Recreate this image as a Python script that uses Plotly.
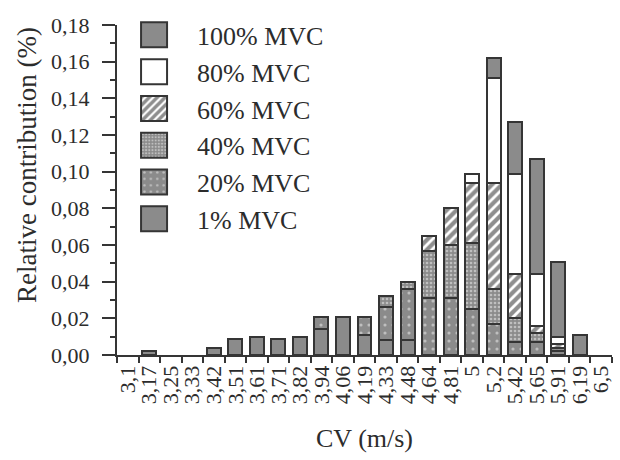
import plotly.graph_objects as go

# Conduction velocity classes (m/s)
cv_classes = ["3,1", "3,17", "3,25", "3,33", "3,42", "3,51", "3,61", "3,71", "3,82",
              "3,94", "4,06", "4,19", "4,33", "4,48", "4,64", "4,81", "5", "5,2",
              "5,42", "5,65", "5,91", "6,19", "6,5"]

# Contribution added at each force level (stacked from 1% MVC upward)
mvc_1 = [0, 0.002, 0, 0, 0.004, 0.009, 0.010, 0.009, 0.010, 0.014, 0.021, 0.011,
         0.008, 0.008, 0, 0, 0, 0, 0, 0, 0, 0, 0]
mvc_20 = [0, 0, 0, 0, 0, 0, 0, 0, 0, 0.007, 0, 0.010,
          0.018, 0.028, 0.031, 0.031, 0.025, 0.017, 0.007, 0.007, 0.002, 0, 0]
mvc_40 = [0, 0, 0, 0, 0, 0, 0, 0, 0, 0, 0, 0,
          0.006, 0.004, 0.026, 0.029, 0.036, 0.019, 0.013, 0.005, 0.002, 0, 0]
mvc_60 = [0, 0, 0, 0, 0, 0, 0, 0, 0, 0, 0, 0,
          0, 0, 0.008, 0.020, 0.033, 0.058, 0.024, 0.004, 0.002, 0, 0]
mvc_80 = [0, 0, 0, 0, 0, 0, 0, 0, 0, 0, 0, 0,
          0, 0, 0, 0, 0.005, 0.057, 0.055, 0.028, 0.004, 0, 0]
mvc_100 = [0, 0, 0, 0, 0, 0, 0, 0, 0, 0, 0, 0,
           0, 0, 0, 0, 0, 0.011, 0.028, 0.063, 0.041, 0.011, 0]

y_ticks = [0, 0.02, 0.04, 0.06, 0.08, 0.10, 0.12, 0.14, 0.16, 0.18]

GRAY = "#8b8b8b"
INK = "#2c2c2c"
EDGE = "#353535"
FONT = "Liberation Serif"

series = [
    ("1% MVC", mvc_1, dict(color=GRAY)),
    ("20% MVC", mvc_20, dict(color=GRAY, pattern=dict(shape=".", fgcolor="#f4f4f4",
                                                       bgcolor=GRAY, size=8, solidity=0.12))),
    ("40% MVC", mvc_40, dict(color=GRAY, pattern=dict(shape=".", fgcolor="#f4f4f4",
                                                       bgcolor=GRAY, size=4, solidity=0.35))),
    ("60% MVC", mvc_60, dict(color="white", pattern=dict(shape="/", fgcolor="#1e1e1e",
                                                          bgcolor="white", size=7, solidity=0.6))),
    ("80% MVC", mvc_80, dict(color="white")),
    ("100% MVC", mvc_100, dict(color=GRAY)),
]

fig = go.Figure()
for name, vals, marker in series:
    marker = dict(marker, line=dict(color=EDGE, width=2))
    fig.add_trace(go.Bar(
        x=cv_classes,
        y=[v if v else None for v in vals],
        name=name,
        marker=marker,
        legendgroup=name,
    ))

fig.update_layout(
    width=620, height=460, autosize=False,
    barmode="stack", bargap=0.35,
    separators=",.",
    paper_bgcolor="white", plot_bgcolor="white",
    margin=dict(l=117, r=8, t=25, b=105),
    font=dict(family=FONT, color=INK, size=22),
    showlegend=True,
    legend=dict(
        x=-0.012, y=0.691, xanchor="left", yanchor="middle",
        traceorder="reversed", tracegroupgap=4,
        itemwidth=76, bgcolor="rgba(0,0,0,0)",
        font=dict(family=FONT, size=26, color=INK),
    ),
    annotations=[dict(
        text="Relative contribution (%)", textangle=-90,
        xref="paper", yref="paper", x=0, y=0.576,
        xanchor="center", yanchor="middle", xshift=-90,
        showarrow=False, font=dict(family=FONT, size=27, color=INK),
    )],
)

fig.update_xaxes(
    type="category", range=[-0.5, len(cv_classes) - 0.5],
    tickmode="array", tickvals=cv_classes, ticktext=cv_classes,
    showline=True, linecolor=EDGE, linewidth=2,
    ticks="outside", tickson="boundaries", ticklen=6, tickwidth=2, tickcolor=EDGE,
    tickangle=-90, tickfont=dict(size=22),
    showgrid=False, zeroline=False,
    title=dict(text="CV (m/s)", font=dict(size=26), standoff=26),
)

fig.update_yaxes(
    range=[0, 0.18], tickvals=y_ticks, tickformat=".2f",
    showline=True, linecolor=EDGE, linewidth=2,
    ticks="outside", ticklen=13, tickwidth=2, tickcolor=EDGE,
    minor=dict(ticks="outside", ticklen=5, dtick=0.01, tickwidth=1.5, tickcolor=EDGE),
    tickfont=dict(size=22), ticklabelstandoff=8,
    showgrid=False, zeroline=False,
)

# Enlarge the legend swatches to square blocks next to the labels
post = """
(function () {
  var gd = document.getElementById('{plot_id}');
  var big = 'M13,12.5H-13V-12.5H13Z';
  function growSwatches() {
    if (!gd) { return; }
    var paths = gd.querySelectorAll('g.legendpoints path');
    for (var i = 0; i < paths.length; i++) {
      if (paths[i].getAttribute('d') !== big) { paths[i].setAttribute('d', big); }
    }
  }
  growSwatches();
  setInterval(growSwatches, 30);
  if (gd && gd.on) { gd.on('plotly_afterplot', growSwatches); }
})();
"""

fig.write_html("out.html", post_script=post)
